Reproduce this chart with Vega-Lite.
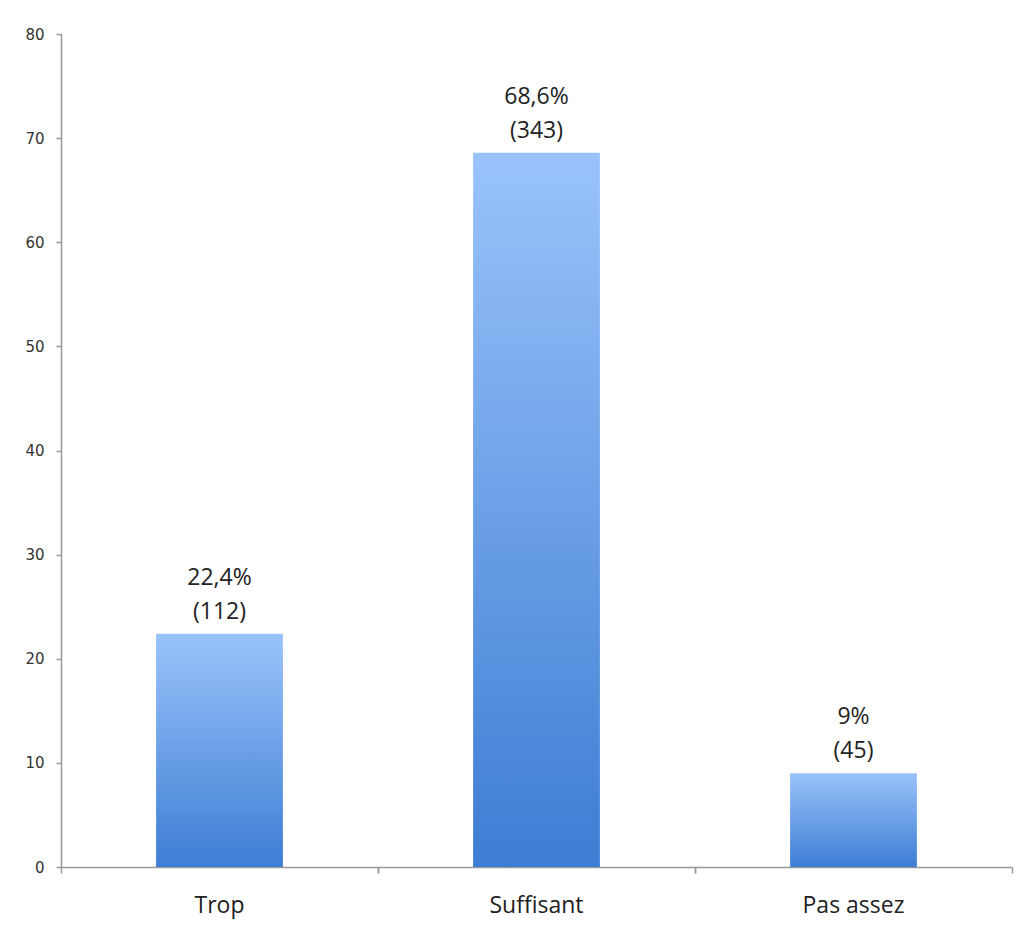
{
  "$schema": "https://vega.github.io/schema/vega-lite/v6.json",
  "autosize": {"type": "none"},
  "width": 951,
  "height": 833,
  "padding": {"left": 61, "top": 34, "right": 13, "bottom": 61},
  "background": "#ffffff",
  "config": {"view": {"stroke": null}},
  "data": {
    "values": [
      {"category": "Trop", "value": 22.4, "label": "22,4%\n(112)"},
      {"category": "Suffisant", "value": 68.6, "label": "68,6%\n(343)"},
      {"category": "Pas assez", "value": 9, "label": "9%\n(45)"}
    ]
  },
  "resolve": {"axis": {"x": "independent"}},
  "layer": [
    {
      "mark": {
        "type": "bar",
        "color": {
          "gradient": "linear",
          "x1": 0, "y1": 0, "x2": 0, "y2": 1,
          "stops": [
            {"offset": 0, "color": "#9ac3fb"},
            {"offset": 1, "color": "#3d7dd3"}
          ]
        }
      },
      "encoding": {
        "x": {
          "field": "category", "type": "nominal", "sort": null,
          "scale": {"paddingInner": 0.6, "paddingOuter": 0.3},
          "axis": {
            "title": null, "labelAngle": 0, "bandPosition": -0.75,
            "labelFont": "Open Sans", "labelFontSize": 23, "labelColor": "#222222",
            "labelPadding": 21, "tickSize": 6, "tickColor": "#999999",
            "domainColor": "#999999", "domainWidth": 1.5, "tickWidth": 1.5
          }
        },
        "y": {
          "field": "value", "type": "quantitative",
          "scale": {"domain": [0, 80]},
          "axis": {
            "title": null, "values": [0, 10, 20, 30, 40, 50, 60, 70, 80],
            "grid": false, "labelFont": "DejaVu Sans", "labelFontSize": 15,
            "labelColor": "#333333", "labelPadding": 12, "tickSize": 5,
            "tickColor": "#999999", "domainColor": "#999999", "domainWidth": 1.5, "tickWidth": 1.5
          }
        }
      }
    },
    {
      "mark": {
        "type": "text", "baseline": "bottom", "dy": -44, "lineBreak": "\n",
        "lineHeight": 34, "font": "Open Sans", "fontSize": 23, "color": "#222222"
      },
      "encoding": {
        "x": {
          "field": "category", "type": "nominal", "sort": null,
          "axis": {
            "title": null, "labels": false, "domain": false, "bandPosition": 1.75,
            "orient": "bottom", "tickSize": 6, "tickColor": "#999999", "tickWidth": 1.5
          }
        },
        "y": {"field": "value", "type": "quantitative"},
        "text": {"field": "label"}
      }
    }
  ]
}
